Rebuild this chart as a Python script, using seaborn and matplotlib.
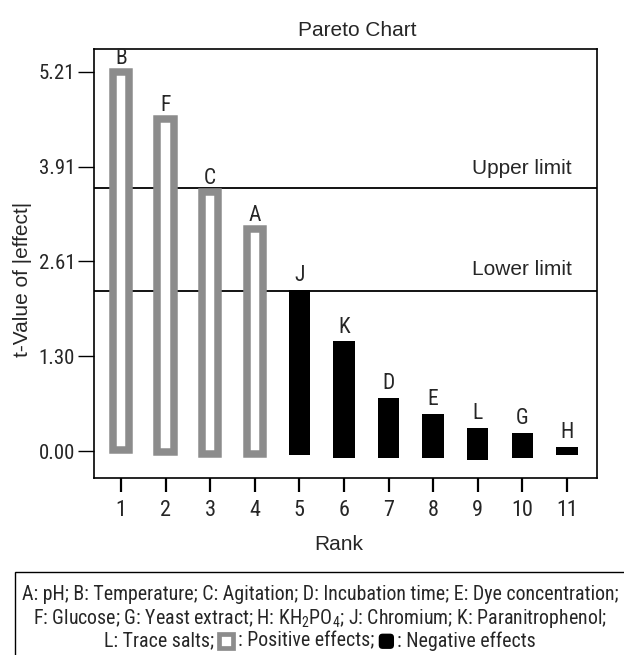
import numpy as np
import pandas as pd
import seaborn as sns
import matplotlib
matplotlib.use("Agg")
import matplotlib.pyplot as plt
from matplotlib import font_manager
from matplotlib.patches import Rectangle, FancyBboxPatch
from matplotlib.offsetbox import TextArea, DrawingArea, HPacker, AnnotationBbox

# ---------------- data ----------------
ranks = [1, 2, 3, 4, 5, 6, 7, 8, 9, 10, 11]
factors = ["B", "F", "C", "A", "J", "K", "D", "E", "L", "G", "H"]
t_values = [5.21, 4.56, 3.56, 3.05, 2.22, 1.51, 0.73, 0.51, 0.32, 0.25, 0.06]
bar_base = [0.02, -0.02, -0.04, -0.04, -0.06, -0.10, -0.10, -0.10, -0.12, -0.10, -0.06]
effect_sign = ["Positive"] * 4 + ["Negative"] * 7
ytick_values = [0.00, 1.30, 2.61, 3.91, 5.21]
ytick_labels = ["0.00", "1.30", "2.61", "3.91", "5.21"]
upper_limit = 3.62
lower_limit = 2.20
legend_lines = [
    "A: pH; B: Temperature; C: Agitation; D: Incubation time; E: Dye concentration;",
    "F: Glucose; G: Yeast extract; H: KH$_\\mathregular{2}$PO$_\\mathregular{4}$; J: Chromium; K: Paranitrophenol;",
]
legend_line3 = ["L: Trace salts;", ": Positive effects;", ": Negative effects"]

df = pd.DataFrame({"rank": ranks, "factor": factors, "t": t_values,
                   "base": bar_base, "sign": effect_sign})

# ---------------- fonts ----------------
sns.set_theme(style="white")
available = {f.name for f in font_manager.fontManager.ttflist}
def pick(cands):
    for c in cands:
        if c in available:
            return c
    return "DejaVu Sans"
REG = pick(["Liberation Sans", "Arial", "DejaVu Sans"])
NARROW = pick(["Liberation Sans Narrow", "Arial Narrow", "DejaVu Sans Condensed", "Roboto Condensed", REG])
plt.rcParams["font.family"] = [REG, "DejaVu Sans"]
plt.rcParams["mathtext.fontset"] = "custom"
plt.rcParams["mathtext.rm"] = NARROW
plt.rcParams["mathtext.it"] = NARROW
plt.rcParams["mathtext.bf"] = NARROW

GRAY = "#8c8c8c"

fig = plt.figure(figsize=(6.24, 6.55), dpi=100)
ax = fig.add_axes([94 / 624, 1 - 478 / 655, (597 - 94) / 624, (478 - 49) / 655])

pos = df[df["sign"] == "Positive"]
neg = df[df["sign"] == "Negative"]

sns.barplot(data=pos, x="rank", y="t", native_scale=True, width=0.37,
            color="white", errorbar=None, ax=ax)
n_pos = len(ax.patches)
sns.barplot(data=neg, x="rank", y="t", native_scale=True, width=0.48,
            color="black", errorbar=None, ax=ax)

for i, p in enumerate(ax.patches):
    base = df["base"].iloc[i]
    top = df["t"].iloc[i]
    p.set_y(base)
    p.set_height(top - base)
    p.set_zorder(3)
    if i < n_pos:
        p.set_facecolor("white")
        p.set_edgecolor(GRAY)
        p.set_linewidth(5.4)
        p.set_joinstyle("miter")
    else:
        p.set_facecolor("black")
        p.set_edgecolor("black")
        p.set_linewidth(0)

# limit lines
ax.axhline(upper_limit, color="black", lw=1.3, zorder=1)
ax.axhline(lower_limit, color="black", lw=1.3, zorder=1)
ax.text(0.950, 3.89, "Upper limit", transform=ax.get_yaxis_transform(),
        ha="right", va="center", fontsize=15, family=REG)
ax.text(0.950, 2.49, "Lower limit", transform=ax.get_yaxis_transform(),
        ha="right", va="center", fontsize=15, family=REG)

# factor letters
for i, row in df.iterrows():
    ax.annotate(row["factor"], xy=(row["rank"], row["t"]), xytext=(0, 2.5),
                textcoords="offset points", ha="center", va="bottom",
                fontsize=15.5, family=NARROW, zorder=4)

ax.set_xlim(0.395, 11.673)
ax.set_ylim(-0.371, 5.526)
ax.set_xticks(ranks)
ax.set_xticklabels([str(r) for r in ranks], fontsize=16, family=NARROW)
ax.set_yticks(ytick_values)
ax.set_yticklabels(ytick_labels, fontsize=15, family=NARROW)
ax.tick_params(axis="y", which="both", left=True, right=False, direction="out",
               length=11.5, width=1.0, pad=2, color="black")
ax.tick_params(axis="x", which="both", bottom=True, top=False, direction="out",
               length=10, width=1.6, pad=6, color="black")
ax.set_xlabel("")
ax.set_ylabel("")
for s in ax.spines.values():
    s.set_visible(True)
    s.set_color("black")
    s.set_linewidth(1.2)

# titles / labels
fig.text(0.572, 1 - 30 / 655, "Pareto Chart", ha="center", va="center", fontsize=15, family=REG)
fig.text(339 / 624, 1 - 545 / 655, "Rank", ha="center", va="center", fontsize=15, family=REG)
fig.text(23 / 624, 1 - 279 / 655, "t-Value of |effect|", ha="center", va="center",
         rotation=90, fontsize=15, family=REG)

# legend box
fig.add_artist(Rectangle((15 / 624, -0.2), 1.2, 0.2 + (1 - 572 / 655), transform=fig.transFigure,
                         fill=False, edgecolor="black", lw=1.0))
fig.text(320 / 624, 1 - 594 / 655, legend_lines[0], ha="center", va="center",
         fontsize=14.3, family=NARROW)
fig.text(320 / 624, 1 - 618 / 655, legend_lines[1], ha="center", va="center",
         fontsize=14.3, family=NARROW)

tp = dict(fontsize=14.3, family=NARROW)
sq1 = DrawingArea(15, 13, 0, 0)
sq1.add_artist(Rectangle((2.5, 1.5), 10, 10, facecolor="white", edgecolor=GRAY, lw=3.4))
sq2 = DrawingArea(15, 13, 0, 0)
sq2.add_artist(FancyBboxPatch((2.5, 0.8), 11, 11, boxstyle="round,pad=0,rounding_size=2.8",
                              facecolor="black", edgecolor="black", lw=0))
pack = HPacker(children=[TextArea(legend_line3[0], textprops=tp), sq1,
                         TextArea(legend_line3[1], textprops=tp), sq2,
                         TextArea(legend_line3[2], textprops=tp)],
               align="center", pad=0, sep=1)
ab = AnnotationBbox(pack, (320 / 624, 1 - 641 / 655), xycoords="figure fraction",
                    frameon=False, box_alignment=(0.5, 0.5), annotation_clip=False)
fig.add_artist(ab)

fig.savefig("out.png", dpi=100)
